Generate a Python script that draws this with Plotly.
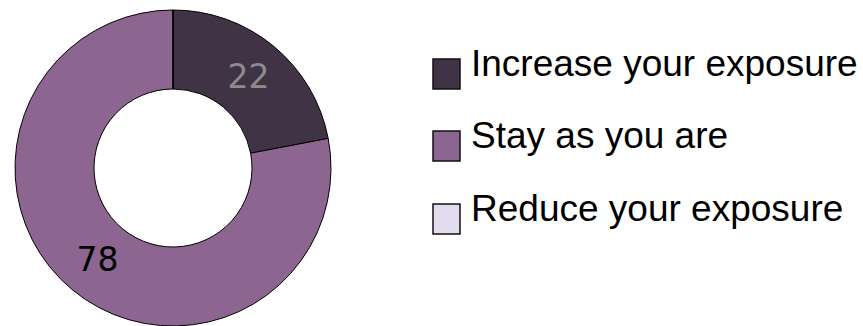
import plotly.graph_objects as go

labels = ["Increase your exposure", "Stay as you are", "Reduce your exposure"]
values = [22, 78, 0]
colors = ["#403346", "#8c6690", "#e2dcee"]
text_colors = ["#8c8c8c", "#000000", "#000000"]

W, H = 863, 326

fig = go.Figure()
fig.add_trace(go.Pie(
    labels=labels,
    values=values,
    hole=0.5,
    sort=False,
    direction="clockwise",
    rotation=0,
    marker=dict(colors=colors, line=dict(color="#000000", width=1)),
    texttemplate=["%{value}" if v > 0 else "" for v in values],
    textposition="inside",
    insidetextorientation="horizontal",
    insidetextfont=dict(family="DejaVu Sans", size=33, color=text_colors),
    domain=dict(x=[14 / W, 332 / W], y=[0, 316 / H]),
    showlegend=False,
    hoverinfo="label+value",
))

# custom legend built from the label/color arrays
sq_x0, sq_x1 = 433, 460
row_centers = [74, 146, 219]
shapes = []
annotations = []
for lab, col, cy in zip(labels, colors, row_centers):
    shapes.append(dict(
        type="rect", xref="paper", yref="paper",
        x0=sq_x0 / W, x1=sq_x1 / W,
        y0=1 - (cy + 15) / H, y1=1 - (cy - 15) / H,
        fillcolor=col, line=dict(color="#111111", width=1.5),
    ))
    annotations.append(dict(
        text=lab, xref="paper", yref="paper",
        x=469 / W, y=1 - (cy - 11) / H,
        xanchor="left", yanchor="middle", showarrow=False,
        font=dict(family="Liberation Sans", size=37, color="#000000"),
    ))

fig.update_layout(
    width=W, height=H,
    margin=dict(l=0, r=0, t=0, b=0),
    paper_bgcolor="#ffffff",
    plot_bgcolor="#ffffff",
    shapes=shapes,
    annotations=annotations,
)

fig.write_html("out.html")
